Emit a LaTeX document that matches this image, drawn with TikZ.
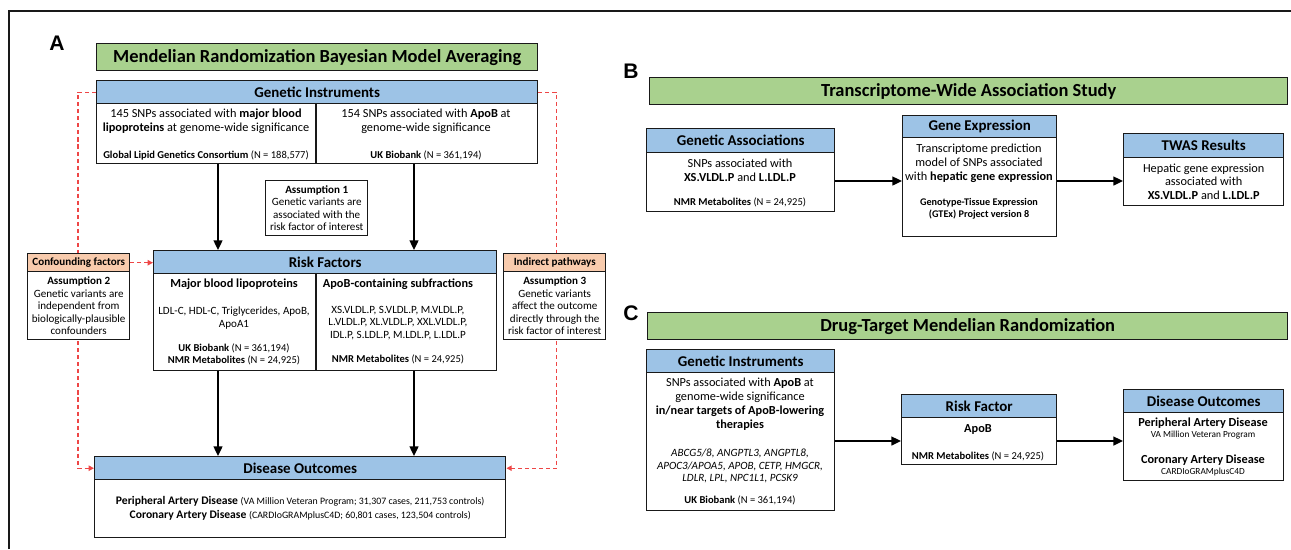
\documentclass[tikz,border=0pt]{standalone}
\usepackage{fontspec}
\setmainfont{Carlito}
\newfontfamily\labelfont{Liberation Sans}
\usetikzlibrary{arrows.meta,backgrounds}
\definecolor{ttlgreen}{RGB}{169,209,142}
\definecolor{hdrblue}{RGB}{157,195,230}
\definecolor{hdrpink}{RGB}{248,203,173}
\definecolor{dashred}{RGB}{238,70,70}
\definecolor{edge}{RGB}{25,25,25}
\begin{document}
\begin{tikzpicture}[x=0.02cm,y=-0.02cm,
  ttl/.style={draw=edge,line width=0.8pt,fill=ttlgreen,inner sep=0pt,anchor=north west,font=\fontsize{10.5}{12}\selectfont\bfseries},
  hdr/.style={draw=edge,line width=0.8pt,fill=hdrblue,inner sep=0pt,anchor=north west,font=\fontsize{8.5}{10}\selectfont\bfseries},
  pinkhdr/.style={hdr,fill=hdrpink,font=\fontsize{6.3}{7.5}\selectfont\bfseries},
  body/.style={draw=edge,line width=0.8pt,fill=white,inner sep=0pt,anchor=north west},
  sz/.style 2 args={minimum width=#1*0.02cm,minimum height=#2*0.02cm},
  txt/.style={align=center,inner sep=0pt,font=\fontsize{7}{7.9}\selectfont},
  bold/.style={align=center,inner sep=0pt,font=\fontsize{7}{7.9}\selectfont\bfseries},
  list/.style={align=center,inner sep=0pt,font=\fontsize{6.3}{6.9}\selectfont},
  src/.style={align=center,inner sep=0pt,font=\fontsize{6}{6.8}\selectfont},
  tiny/.style={align=center,inner sep=0pt,font=\fontsize{5.3}{6}\selectfont},
  note/.style={align=center,inner sep=0pt,font=\fontsize{6.3}{7.1}\selectfont},
  divider/.style={draw=edge,line width=0.8pt},
  flow/.style={line width=1.1pt,-{Triangle[length=5.5pt,width=5pt]}},
  bias/.style={dashred,line width=0.7pt,dash pattern=on 2.3pt off 1.7pt,-{Triangle[length=3pt,width=3pt]}},
  panel/.style={inner sep=0pt,font=\labelfont\fontsize{12}{14}\selectfont\bfseries}]
\useasboundingbox (0,0) rectangle (1291,549);
\draw[edge,line width=0.6pt] (9,549) -- (9,11) -- (1291,11);

\coordinate (colL) at (218,0);
\coordinate (colM) at (316,0);
\coordinate (colR) at (414,0);
\coordinate (rowB) at (0,181);
\coordinate (rowC) at (0,441);

\node[panel] (la) at (57,43) {A};
\node[ttl,sz={441}{27}] (mrbma) at (96,43) {Mendelian Randomization Bayesian Model Averaging};

\node[hdr,sz={441}{23}] (gihead) at (96,80) {Genetic Instruments};
\node[body,sz={441}{60}] (gibody) at (96,103) {};
\draw[divider] (gibody.north -| colM) -- (gibody.south -| colM);
\node[txt] (gilip) at (206,121) {145 SNPs associated with \textbf{major blood}\\\textbf{lipoproteins} at genome-wide significance};
\node[src] (gilipsrc) at (206,155) {\textbf{Global Lipid Genetics Consortium} (N = 188,577)};
\node[txt] (giapob) at (426,121) {154 SNPs associated with \textbf{ApoB} at\\genome-wide significance};
\node[src] (giapobsrc) at (426,155) {\textbf{UK Biobank} (N = 361,194)};

\node[body,sz={102}{55},note] (as1) at (265,180) {\textbf{Assumption 1}\\Genetic variants are\\associated with the\\risk factor of interest};

\node[hdr,sz={343}{23}] (rfhead) at (153,250) {Risk Factors};
\node[body,sz={343}{97}] (rfbody) at (153,273) {};
\draw[divider] (rfbody.north -| colM) -- (rfbody.south -| colM);
\node[bold] (rfmaj) at (234,284) {Major blood lipoproteins};
\node[list] (rfmajlist) at (234,318) {LDL-C, HDL-C, Triglycerides, ApoB,\\ApoA1};
\node[src] (rfmajsrc) at (234,354) {\textbf{UK Biobank} (N = 361,194)\\\textbf{NMR Metabolites} (N = 24,925)};
\node[bold] (rfsub) at (398,284) {ApoB-containing subfractions};
\node[list] (rfsublist) at (398,323) {XS.VLDL.P, S.VLDL.P, M.VLDL.P,\\L.VLDL.P, XL.VLDL.P, XXL.VLDL.P,\\IDL.P, S.LDL.P, M.LDL.P, L.LDL.P};
\node[src] (rfsubsrc) at (398,359) {\textbf{NMR Metabolites} (N = 24,925)};

\node[pinkhdr,sz={102}{18}] (cfhead) at (27,253) {Confounding factors};
\node[body,sz={102}{68},note] (cfbody) at (27,271) {\textbf{Assumption 2}\\Genetic variants are\\independent from\\biologically-plausible\\confounders};
\node[pinkhdr,sz={102}{18}] (iphead) at (503,253) {Indirect pathways};
\node[body,sz={102}{68},note] (ipbody) at (503,271) {\textbf{Assumption 3}\\Genetic variants\\affect the outcome\\directly through the\\risk factor of interest};

\node[hdr,sz={411}{23}] (dohead) at (94,456) {Disease Outcomes};
\node[body,sz={411}{58},align=center,font=\fontsize{6.6}{7.9}\selectfont] (dobody) at (94,479) {\textbf{Peripheral Artery Disease} {\fontsize{5.6}{7}\selectfont(VA Million Veteran Program; 31,307 cases, 211,753 controls)}\\\textbf{Coronary Artery Disease} {\fontsize{5.6}{7}\selectfont(CARDIoGRAMplusC4D; 60,801 cases, 123,504 controls)}};

\draw[flow] (gibody.south -| colL) -- (rfhead.north -| colL);
\draw[flow] (gibody.south -| colR) -- (rfhead.north -| colR);
\draw[flow] (rfbody.south -| colL) -- (dohead.north -| colL);
\draw[flow] (rfbody.south -| colR) -- (dohead.north -| colR);
\begin{pgfonlayer}{background}
\draw[bias] (gihead.west) -- ++(-18,0) |- (dohead.west);
\draw[bias] (gihead.east) -- ++(18,0) |- (dohead.east);
\end{pgfonlayer}
\draw[bias] (cfhead.east) -- (rfhead.west |- cfhead.east);

\node[panel] (lb) at (631,71) {B};
\node[ttl,sz={638}{27}] (twas) at (649,77) {Transcriptome-Wide Association Study};

\node[hdr,sz={188}{24}] (gahead) at (646,128) {Genetic Associations};
\node[body,sz={188}{59}] (gabody) at (646,152) {};
\node[txt] (gatxt) at (740,170) {SNPs associated with\\\textbf{XS.VLDL.P} and \textbf{L.LDL.P}};
\node[src] (gasrc) at (740,202) {\textbf{NMR Metabolites} (N = 24,925)};

\node[hdr,sz={154}{22}] (gehead) at (902,115) {Gene Expression};
\node[body,sz={154}{99}] (gebody) at (902,137) {};
\node[txt] (getxt) at (979,163) {Transcriptome prediction\\model of SNPs associated\\with \textbf{hepatic gene expression}};
\node[src,font=\fontsize{5.8}{6.8}\selectfont\bfseries] (gesrc) at (979,209) {Genotype-Tissue Expression\\(GTEx) Project version 8};

\node[hdr,sz={160}{24}] (twhead) at (1123,133) {TWAS Results};
\node[body,sz={160}{48},txt] (twbody) at (1123,157) {Hepatic gene expression\\associated with\\\textbf{XS.VLDL.P} and \textbf{L.LDL.P}};

\draw[flow] (gabody.east |- rowB) -- (gebody.west |- rowB);
\draw[flow] (gebody.east |- rowB) -- (twbody.west |- rowB);

\node[panel] (lc) at (631,313) {C};
\node[ttl,sz={640}{27}] (dtmr) at (647,312) {Drug-Target Mendelian Randomization};

\node[hdr,sz={188}{23}] (gchead) at (646,349) {Genetic Instruments};
\node[body,sz={188}{138}] (gcbody) at (646,372) {};
\node[txt] (gctxt) at (740,404) {SNPs associated with \textbf{ApoB} at\\genome-wide significance\\\textbf{in/near targets of ApoB-lowering}\\\textbf{therapies}};
\node[list,font=\fontsize{6.3}{6.9}\selectfont\itshape] (gcgenes) at (740,466) {ABCG5/8, ANGPTL3, ANGPTL8,\\APOC3/APOA5, APOB, CETP, HMGCR,\\LDLR, LPL, NPC1L1, PCSK9};
\node[src] (gcsrc) at (740,500) {\textbf{UK Biobank} (N = 361,194)};

\node[hdr,sz={155}{23}] (rchead) at (901,394) {Risk Factor};
\node[body,sz={155}{47}] (rcbody) at (901,417) {};
\node[bold] (rcapob) at (978,429) {ApoB};
\node[src] (rcsrc) at (978,456) {\textbf{NMR Metabolites} (N = 24,925)};

\node[hdr,sz={160}{23}] (dchead) at (1123,389) {Disease Outcomes};
\node[body,sz={160}{68}] (dcbody) at (1123,412) {};
\node[bold] (dcpad) at (1203,423) {Peripheral Artery Disease};
\node[tiny] (dcpadsrc) at (1203,435) {VA Million Veteran Program};
\node[bold] (dccad) at (1203,460) {Coronary Artery Disease};
\node[tiny] (dccadsrc) at (1203,472) {CARDIoGRAMplusC4D};

\draw[flow] (gcbody.east |- rowC) -- (rcbody.west |- rowC);
\draw[flow] (rcbody.east |- rowC) -- (dcbody.west |- rowC);
\end{tikzpicture}
\end{document}
